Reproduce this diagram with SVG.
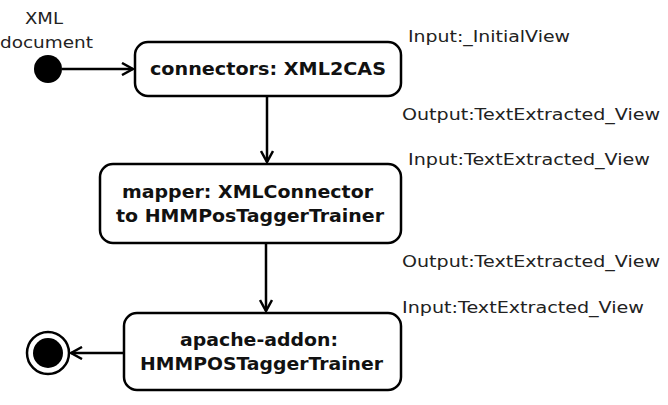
<svg xmlns="http://www.w3.org/2000/svg" width="668" height="405" viewBox="0 0 668 405">
<style>
.box{fill:#fff;stroke:#000;stroke-width:2.5}
.t{font-family:"DejaVu Sans",sans-serif;font-size:17px;fill:#111;font-weight:bold}
.l{font-family:"DejaVu Sans",sans-serif;font-size:16px;fill:#222}
.c{stroke:#000;stroke-width:2.5;fill:none}
</style>
<defs>
<marker id="a" markerWidth="14" markerHeight="14" refX="12" refY="7" orient="auto" markerUnits="userSpaceOnUse">
<path d="M1,1 L12,7 L1,13" fill="none" stroke="#000" stroke-width="2.5"/>
</marker>
</defs>
<rect width="668" height="405" fill="#fff"/>
<g id="start">
<circle cx="48" cy="69" r="14" fill="#000"/>
<text class="l" x="25" y="24" textLength="38" lengthAdjust="spacingAndGlyphs">XML</text>
<text class="l" x="0" y="48" textLength="93" lengthAdjust="spacingAndGlyphs">document</text>
</g>
<g id="n1">
<rect class="box" x="135" y="42" width="266" height="54" rx="13"/>
<text class="t" x="150" y="75" textLength="236" lengthAdjust="spacingAndGlyphs">connectors: XML2CAS</text>
</g>
<g id="n2">
<rect class="box" x="100" y="164" width="301" height="79" rx="13"/>
<text class="t" x="122" y="198" textLength="251" lengthAdjust="spacingAndGlyphs">mapper: XMLConnector</text>
<text class="t" x="116" y="222" textLength="268" lengthAdjust="spacingAndGlyphs">to HMMPosTaggerTrainer</text>
</g>
<g id="n3">
<rect class="box" x="124" y="313" width="277" height="77" rx="13"/>
<text class="t" x="180" y="346" textLength="158" lengthAdjust="spacingAndGlyphs">apache-addon:</text>
<text class="t" x="140" y="370" textLength="243" lengthAdjust="spacingAndGlyphs">HMMPOSTaggerTrainer</text>
</g>
<g id="end">
<circle cx="48" cy="353" r="21" fill="#fff" stroke="#000" stroke-width="2.5"/>
<circle cx="48" cy="353" r="15" fill="#000"/>
</g>
<g id="connectors">
<line class="c" x1="62" y1="69" x2="133" y2="69" marker-end="url(#a)"/>
<line class="c" x1="267" y1="96" x2="267" y2="162" marker-end="url(#a)"/>
<line class="c" x1="266" y1="243" x2="266" y2="311" marker-end="url(#a)"/>
<line class="c" x1="124" y1="353" x2="71" y2="353" marker-end="url(#a)"/>
</g>
<g id="labels">
<text class="l" x="408" y="42" textLength="162" lengthAdjust="spacingAndGlyphs">Input:_InitialView</text>
<text class="l" x="402" y="120" textLength="258" lengthAdjust="spacingAndGlyphs">Output:TextExtracted_View</text>
<text class="l" x="408" y="165" textLength="242" lengthAdjust="spacingAndGlyphs">Input:TextExtracted_View</text>
<text class="l" x="402" y="267" textLength="258" lengthAdjust="spacingAndGlyphs">Output:TextExtracted_View</text>
<text class="l" x="402" y="313" textLength="242" lengthAdjust="spacingAndGlyphs">Input:TextExtracted_View</text>
</g>
</svg>
